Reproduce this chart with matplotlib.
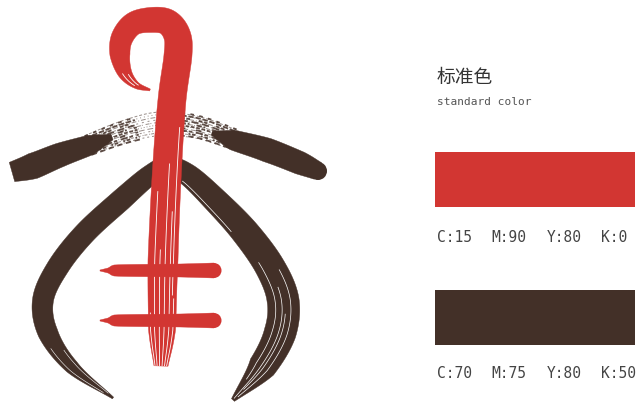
import numpy as np
import matplotlib
matplotlib.use("Agg")
import matplotlib.pyplot as plt
from matplotlib.patches import Polygon, Rectangle, Circle

# ---------------- data ----------------
title_cn = "标准色"
title_en = "standard color"
swatch_colors = ["#D23632", "#433028"]
cmyk_c = [15, 70]
cmyk_m = [90, 75]
cmyk_y = [80, 80]
cmyk_k = [0, 50]

RED = swatch_colors[0]
BROWN = swatch_colors[1]

# logo stroke centre-lines (pixel coords) and widths
red_x = [150, 136, 125, 120, 122, 133, 150, 167, 177, 178, 172, 167, 163, 162, 161]
red_y = [90, 85, 73, 55, 38, 24, 20, 22, 35, 55, 100, 170, 260, 330, 366]
red_w = [2, 7, 14, 20, 22, 23, 25, 26, 27, 28, 28, 29, 30, 27, 14]

bar_x = [100, 108, 114, 130, 180, 214]
bar_w = [1, 5, 11, 12, 13, 15]
bar_rows = [270.5, 320.5]

body_x = [113, 72, 48, 43, 58, 85, 121, 150, 168, 188, 215, 245, 270, 283, 280, 262, 233]
body_y = [398, 367, 333, 300, 267, 233, 200, 175, 166, 175, 200, 232, 267, 300, 333, 367, 400]
body_w = [2, 14, 20, 21, 22, 22, 22, 20, 18, 22, 25, 28, 30, 32, 32, 28, 4]

tl_x = [12, 33, 60, 90, 112]
tl_y = [172, 166, 155, 145, 137]
tl_w = [20, 26, 24, 20, 6]

tr_x = [212, 233, 267, 300, 318]
tr_y = [133, 140, 150, 163, 171]
tr_w = [4, 20, 24, 23, 18]

tm_x = [88, 120, 150, 170, 200, 235]
tm_y = [145, 133, 125, 124, 128, 140]
tm_w = [22, 24, 26, 26, 24, 22]


# ---------------- helpers ----------------
def smooth(xs, ys, ws, n=24):
    P = np.column_stack([xs, ys]).astype(float)
    W = np.asarray(ws, float)
    P2 = np.vstack([2 * P[0] - P[1], P, 2 * P[-1] - P[-2]])
    out, wout = [], []
    for i in range(len(P) - 1):
        p0, p1, p2, p3 = P2[i], P2[i + 1], P2[i + 2], P2[i + 3]
        t = np.linspace(0, 1, n, endpoint=False)[:, None]
        pts = 0.5 * ((2 * p1) + (-p0 + p2) * t + (2 * p0 - 5 * p1 + 4 * p2 - p3) * t ** 2
                     + (-p0 + 3 * p1 - 3 * p2 + p3) * t ** 3)
        out.append(pts)
        wout.append(W[i] + (W[i + 1] - W[i]) * t[:, 0])
    out.append(P[-1:])
    wout.append(W[-1:])
    return np.vstack(out), np.concatenate(wout)


def normals(pts):
    d = np.gradient(pts, axis=0)
    d /= np.linalg.norm(d, axis=1)[:, None]
    return np.column_stack([-d[:, 1], d[:, 0]])


def stroke(ax, xs, ys, ws, color, z=2):
    pts, w = smooth(xs, ys, ws)
    nrm = normals(pts)
    L = pts + nrm * w[:, None] / 2
    R = pts - nrm * w[:, None] / 2
    ax.add_patch(Polygon(np.vstack([L, R[::-1]]), closed=True, fc=color, ec=color,
                         lw=0.3, zorder=z))
    return pts, w, nrm


def streak(ax, pts, w, nrm, frac, i0, i1, color, lw=0.6, z=3, alpha=1.0, dashes=None):
    seg = pts[i0:i1] + nrm[i0:i1] * (frac * w[i0:i1] / 2)[:, None]
    line, = ax.plot(seg[:, 0], seg[:, 1], color=color, lw=lw, zorder=z, alpha=alpha,
                    solid_capstyle="butt")
    if dashes:
        line.set_dashes(dashes)


# ---------------- figure ----------------
fig = plt.figure(figsize=(6.38, 4.04), dpi=100)
ax = fig.add_axes([0, 0, 1, 1])
ax.set_xlim(0, 638)
ax.set_ylim(404, 0)
ax.axis("off")

# brown body (pipa outline), one continuous stroke
p, w, n = stroke(ax, body_x, body_y, body_w, BROWN)
for f, a, b in ((-0.55, 5, 40), (0.6, 3, 35)):
    streak(ax, p, w, n, f, a, b, "white", lw=0.4)
for f, a, b in ((-0.45, 292, 382), (0.1, 302, 384), (0.5, 282, 372), (-0.1, 322, 377),
                (0.75, 215, 260)):
    streak(ax, p, w, n, f, a, b, "white", lw=0.5)

# top arc
p, w, n = stroke(ax, tl_x, tl_y, tl_w, BROWN)
p, w, n = stroke(ax, tr_x, tr_y, tr_w, BROWN)
ax.add_patch(Circle((tr_x[-1], tr_y[-1]), tr_w[-1] / 2, fc=BROWN, ec="none", zorder=2))
pts, ww = smooth(tm_x, tm_y, tm_w)
nn = normals(pts)
N = len(pts)
dash_sets = [(3, 2), (1, 3), (5, 2, 1, 2), (2, 4), (4, 1, 1, 3), (1, 2), (6, 3), (2, 2, 1, 4),
             (1, 1, 3, 2), (2, 3)]
fracs = [-0.9, -0.7, -0.5, -0.3, -0.1, 0.1, 0.3, 0.5, 0.7, 0.9]
for f, ds in zip(fracs, dash_sets):
    streak(ax, pts, ww, nn, f, 0, N, BROWN, lw=0.7, alpha=0.55, dashes=ds)
    streak(ax, pts, ww, nn, f + 0.05, 0, 38, BROWN, lw=1.3, alpha=0.85, dashes=ds[::-1])
    streak(ax, pts, ww, nn, f - 0.05, N - 40, N, BROWN, lw=1.3, alpha=0.85, dashes=ds[::-1])

# red hook + stem
p, w, n = stroke(ax, red_x, red_y, red_w, RED, z=4)
NR = len(p)
for f, a, b in ((-0.5, 275, NR), (-0.15, 262, NR), (0.2, 285, NR), (0.55, 270, NR),
                (-0.8, 300, NR), (0.85, 305, NR), (0.35, 20, 45), (-0.35, 25, 50),
                (-0.7, 250, 300)):
    streak(ax, p, w, n, f, a, b, "white", lw=0.6, z=5)

# red horizontal bars
for yb in bar_rows:
    ys = [yb] * len(bar_x)
    stroke(ax, bar_x, ys, bar_w, RED, z=6)
    ax.add_patch(Circle((bar_x[-1], yb), bar_w[-1] / 2, fc=RED, ec="none", zorder=6))

# ---------------- right panel ----------------
ax.text(437, 77, title_cn, fontsize=13.5, color="#333333", va="center", ha="left",
        family=["Noto Sans CJK SC", "DejaVu Sans"])
ax.text(437, 102, title_en, fontsize=8, color="#555555", va="center", ha="left",
        family="DejaVu Sans Mono")

sw_top = [151.5, 289.5]
lab_y = [237, 374]
lab_x = [437, 491, 547, 601]
for i, col in enumerate(swatch_colors):
    ax.add_patch(Rectangle((435, sw_top[i]), 200, 55.5, fc=col, ec="none", zorder=2))
    labels = [f"C:{cmyk_c[i]}", f"M:{cmyk_m[i]}", f"Y:{cmyk_y[i]}", f"K:{cmyk_k[i]}"]
    for xl, s in zip(lab_x, labels):
        ax.text(xl, lab_y[i], s, fontsize=10.5, color="#444444", va="center", ha="left",
                family="DejaVu Sans Mono")

fig.savefig("out.png", dpi=100, facecolor="white")
